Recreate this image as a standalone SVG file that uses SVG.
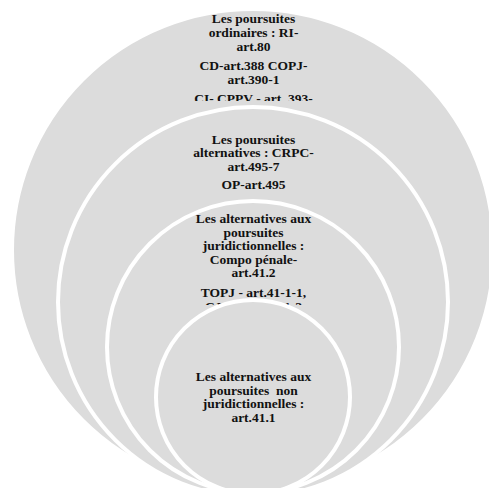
<svg xmlns="http://www.w3.org/2000/svg" width="489" height="488" viewBox="0 0 489 488">
<style>
.c{fill:#dcdcdc;stroke:#ffffff;stroke-width:4}
.t{font-family:"Liberation Serif","Times New Roman",serif;font-weight:bold;font-size:13.5px;fill:#111;text-anchor:middle}
</style>
<defs>
<clipPath id="clip1"><rect x="0" y="0" width="489" height="101"/></clipPath>
<clipPath id="clip3"><rect x="0" y="200" width="489" height="105"/></clipPath>
</defs>
<rect width="489" height="488" fill="#ffffff"/>
<g id="n1">
<circle class="c" cx="253" cy="250" r="241"/>
<g clip-path="url(#clip1)">
<text class="t" x="253.5" y="23">Les poursuites</text>
<text class="t" x="253.5" y="37">ordinaires : RI-</text>
<text class="t" x="253.5" y="50.5">art.80</text>
<text class="t" x="253.5" y="70">CD-art.388 COPJ-</text>
<text class="t" x="253.5" y="83.5">art.390-1</text>
<text class="t" x="253.5" y="103">CI- CPPV - art. 393-</text>
</g>
</g>
<g id="n2">
<circle class="c" cx="253" cy="302" r="195"/>
<text class="t" x="253.5" y="143.5">Les poursuites</text>
<text class="t" x="253.5" y="157">alternatives : CRPC-</text>
<text class="t" x="253.5" y="170.5">art.495-7</text>
<text class="t" x="253.5" y="188.5">OP-art.495</text>
</g>
<g id="n3">
<circle class="c" cx="253" cy="347" r="146"/>
<g clip-path="url(#clip3)">
<text class="t" x="253.5" y="223">Les alternatives aux</text>
<text class="t" x="253.5" y="236.5">poursuites</text>
<text class="t" x="253.5" y="250">juridictionnelles :</text>
<text class="t" x="253.5" y="263.5">Compo pénale-</text>
<text class="t" x="253.5" y="277">art.41.2</text>
<text class="t" x="253.5" y="297">TOPJ - art.41-1-1,</text>
<text class="t" x="253.5" y="310.5">CJIP - art.41-1-2</text>
</g>
</g>
<g id="n4">
<circle class="c" cx="253" cy="397" r="97"/>
<text class="t" x="253.5" y="381">Les alternatives aux</text>
<text class="t" x="253.5" y="394.5" xml:space="preserve">poursuites  non</text>
<text class="t" x="253.5" y="408">juridictionnelles :</text>
<text class="t" x="253.5" y="421.5">art.41.1</text>
</g>
<g id="connectors"/>
</svg>
